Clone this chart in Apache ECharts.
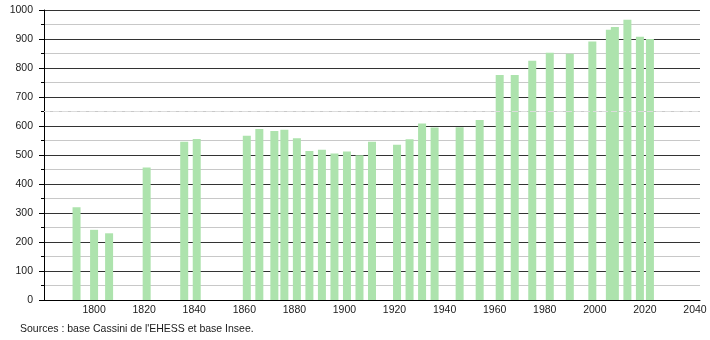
<!DOCTYPE html>
<html>
<head>
<meta charset="utf-8">
<script src="https://cdn.jsdelivr.net/npm/echarts@6/dist/echarts.min.js"></script>
<style>
html,body{margin:0;padding:0;background:#fff;}
#c{width:710px;height:340px;}
</style>
</head>
<body>
<div id="c"></div>
<script>
const years = [1793,1800,1806,1821,1836,1841,1861,1866,1872,1876,1881,1886,1891,1896,1901,1906,1911,1921,1926,1931,1936,1946,1954,1962,1968,1975,1982,1990,1999,2006,2008,2013,2018,2022];
const population = [320,242,230,457,546,555,566,590,583,587,558,514,518,505,512,499,546,535,554,609,595,596,621,776,776,825,853,849,891,932,941,966,908,900];
const xTicks = [1800,1820,1840,1860,1880,1900,1920,1940,1960,1980,2000,2020,2040];
const yTicks = [0,100,200,300,400,500,600,700,800,900,1000];
const sourceText = "Sources : base Cassini de l'EHESS et base Insee.";

const chart = echarts.init(document.getElementById('c'), null, {renderer:'canvas'});
const font = 'Liberation Sans, Arial, sans-serif';
chart.setOption({
  animation:false,
  backgroundColor:'#fff',
  grid:{left:44,right:10,top:10,bottom:40,containLabel:false},
  xAxis:{
    type:'value',min:1780,max:2042,interval:20,
    axisLine:{show:true,lineStyle:{color:'#000',width:1}},
    axisTick:{show:false},
    splitLine:{show:false},
    axisLabel:{color:'#1a1a1a',fontSize:10.5,fontFamily:font,margin:5,
      formatter:function(v){return xTicks.indexOf(v)>=0?String(v):'';}}
  },
  yAxis:{
    type:'value',min:0,max:1000,interval:100,
    axisLine:{show:true,lineStyle:{color:'#000',width:1}},
    axisTick:{show:true,length:5,inside:false,lineStyle:{color:'#000'}},
    minorTick:{show:true,splitNumber:2,length:3,lineStyle:{color:'#000'}},
    splitLine:{show:true,lineStyle:{color:'#333',width:1}},
    minorSplitLine:{show:true,lineStyle:{color:'#c8c8c8',width:1}},
    axisLabel:{color:'#1a1a1a',fontSize:10.5,fontFamily:font,margin:11,
      formatter:function(v){return yTicks.indexOf(v)>=0?String(v):'';}}
  },
  series:[{
    type:'bar',
    barWidth:8,
    data:years.map((y,i)=>[y,population[i]]),
    itemStyle:{color:'#ade3ad'},
    markLine:{silent:true,symbol:'none',label:{show:false},
      lineStyle:{color:'#dcdcdc',type:[6,3],width:1},
      data:[{yAxis:650}]}
  }],
  graphic:[{
    type:'text',left:20,top:324,
    style:{text:sourceText,fill:'#1a1a1a',font:'10.5px '+font}
  }]
});
</script>
</body>
</html>
